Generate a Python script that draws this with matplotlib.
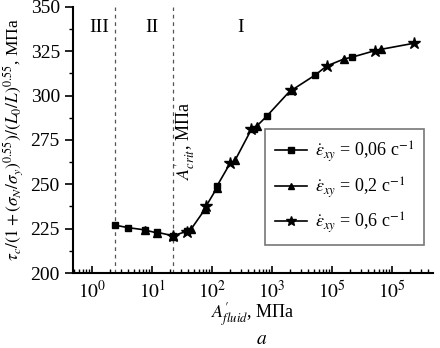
import numpy as np
import matplotlib.pyplot as plt
from matplotlib.ticker import FixedLocator, LogLocator, NullFormatter, MultipleLocator

plt.rcParams['font.family'] = ['Liberation Serif', 'DejaVu Serif']
plt.rcParams['mathtext.fontset'] = 'stix'

# eps = 0.06 c^-1 (squares)
x_sq = [2.4, 3.9, 7.6, 12, 22, 38, 120, 490, 815, 5200, 21000]
y_sq = [227, 225.6, 224.3, 223, 221, 223.5, 249, 281, 288.5, 311.6, 321.6]
# eps = 0.2 c^-1 (triangles)
x_tr = [7.6, 12, 22, 45, 76, 120, 240, 560, 2100, 15800, 65000]
y_tr = [224.2, 222.6, 221, 225, 236, 248, 263.5, 283, 303, 320.7, 326.1]
# eps = 0.6 c^-1 (stars)
x_st = [22, 38, 80, 200, 450, 2050, 8100, 52000, 227000]
y_st = [221, 223, 238, 262, 281, 303.2, 316.7, 325.4, 329.5]

labels = [r"$\dot{\varepsilon}_{xy}$ = 0,06 c$^{-1}$",
          r"$\dot{\varepsilon}_{xy}$ = 0,2 c$^{-1}$",
          r"$\dot{\varepsilon}_{xy}$ = 0,6 c$^{-1}$"]

x_ticks = [1, 10, 100, 1000, 10000, 100000]
x_ticklabels = [r"$10^0$", r"$10^1$", r"$10^2$", r"$10^3$", r"$10^5$", r"$10^5$"]
bounds = [2.4, 22.4]

fig = plt.figure(figsize=(4.4, 3.48), dpi=100)
ax = fig.add_axes([0.166, 0.2155, 0.818, 0.7645])

# combined curve through all points
xs = np.array(x_sq + x_tr + x_st)
ys = np.array(y_sq + y_tr + y_st)
order = np.argsort(xs)
ax.plot(xs[order], ys[order], color='black', lw=1.2, zorder=2)

ax.plot(x_sq, y_sq, 's', color='black', ms=5, zorder=3)
ax.plot(x_tr, y_tr, '^', color='black', ms=5.5, zorder=3)
ax.plot(x_st, y_st, '*', color='black', ms=9, zorder=3)

# legend handles
h = [ax.plot([], [], '-', marker=m, color='black', lw=1.2, ms=s)[0]
     for m, s in [('s', 4), ('^', 5), ('*', 7)]]
leg = ax.legend(h, labels, loc='lower right', bbox_to_anchor=(0.975, 0.105),
                fontsize=13, frameon=True, fancybox=False, edgecolor='#555555',
                handlelength=1.8, handletextpad=0.4, borderpad=0.55, labelspacing=0.6,
                borderaxespad=0)
leg.get_frame().set_linewidth(1.2)

for b in bounds:
    ax.axvline(b, color='#555555', ls=(0, (3, 3)), lw=0.9, zorder=1)

ax.set_xscale('log')
ax.set_xlim(10 ** -0.32, 10 ** 5.68)
ax.set_ylim(200, 350)

ax.xaxis.set_major_locator(FixedLocator(x_ticks))
ax.set_xticklabels(x_ticklabels)
ax.xaxis.set_minor_locator(LogLocator(base=10, subs=np.arange(2, 10), numticks=20))
ax.xaxis.set_minor_formatter(NullFormatter())
ax.yaxis.set_major_locator(MultipleLocator(25))
ax.yaxis.set_minor_locator(MultipleLocator(12.5))

ax.tick_params(axis='x', which='major', direction='in', length=5, width=1.2, labelsize=14, pad=5)
ax.tick_params(axis='x', which='minor', direction='in', length=3, width=1)
ax.tick_params(axis='y', which='major', direction='out', length=6, width=1.2, labelsize=14)
ax.tick_params(axis='y', which='minor', direction='out', length=3, width=1)

ax.spines['top'].set_visible(False)
ax.spines['right'].set_visible(False)
ax.spines['left'].set_linewidth(1.5)
ax.spines['bottom'].set_linewidth(1.5)

ax.set_ylabel(r"$\tau_c/(1+(\sigma_N/\sigma_y)^{0.55})/(L_0/L)^{0.55}$, МПа", fontsize=12.5, labelpad=4)
ax.set_xlabel(r"$A^{\prime}_{fluid}$, МПа", fontsize=13, labelpad=-1)

ax.text(0.045, 0.955, "III", transform=ax.transAxes, fontsize=14, va='top', ha='left')
ax.text(0.2, 0.955, "II", transform=ax.transAxes, fontsize=14, va='top', ha='left')
ax.text(0.455, 0.955, "I", transform=ax.transAxes, fontsize=14, va='top', ha='left')
ax.text(0.31, 0.35, r"$A^{\prime}_{crit}$, МПа", transform=ax.transAxes, fontsize=13,
        rotation=90, va='bottom', ha='center')

fig.text(0.595, 0.0, r"$a$", fontsize=14, ha='center', va='bottom')

fig.savefig("out.png", dpi=100)
